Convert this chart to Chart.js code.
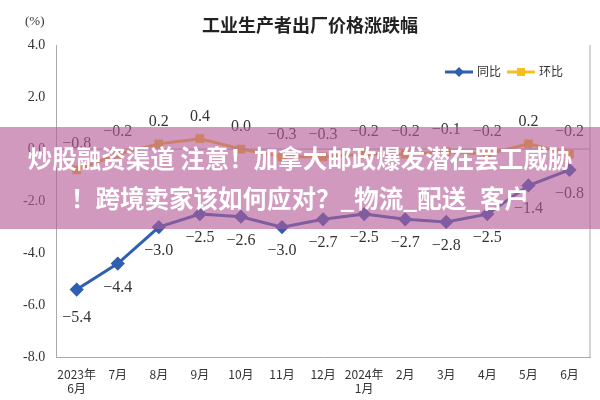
<!DOCTYPE html>
<html><head><meta charset="utf-8">
<script src="https://cdn.jsdelivr.net/npm/chart.js@4/dist/chart.umd.min.js"></script>
<style>
body{margin:0;background:#fff;}
#wrap{position:relative;width:600px;height:400px;}
#banner{position:absolute;left:0;top:127px;width:600px;height:102px;background:rgba(180,90,150,0.62);color:#fff;font-family:"Noto Sans CJK SC";font-weight:bold;font-size:24.5px;line-height:40px;text-align:center;padding-top:11px;box-sizing:border-box;white-space:nowrap;}
</style></head><body>
<div id="wrap"><canvas id="c" width="600" height="400"></canvas>
<div id="banner">炒股融资渠道 注意！加拿大邮政爆发潜在罢工威胁<br>！跨境卖家该如何应对？_物流_配送_客户</div></div>
<script>
const categories=[["2023年","6月"],"7月","8月","9月","10月","11月","12月",["2024年","1月"],"2月","3月","4月","5月","6月"];
const yoy=[-5.4,-4.4,-3.0,-2.5,-2.6,-3.0,-2.7,-2.5,-2.7,-2.8,-2.5,-1.4,-0.8];
const mom=[-0.8,-0.2,0.2,0.4,0.0,-0.3,-0.3,-0.2,-0.2,-0.1,-0.2,0.2,-0.2];
const labelPlugin={id:'lbl',afterDatasetsDraw(ch){const c=ch.ctx;c.save();c.font='16px "Liberation Serif"';c.fillStyle='#333';c.textAlign='center';
ch.data.datasets.forEach((ds,i)=>{const m=ch.getDatasetMeta(i);m.data.forEach((p,j)=>{const v=ds.data[j];let y=i==0?p.y+28:p.y-18;let x=p.x;if(i==0&&j==0){y=p.y+32;}if(i==1&&j==0){y=p.y-22;}c.fillText(v.toFixed(1).replace('-','−'),x,y);});});
c.restore();}};
new Chart(document.getElementById('c'),{type:'line',
data:{labels:categories,datasets:[
{label:'同比',data:yoy,borderColor:'#2f5fb0',backgroundColor:'#2f5fb0',borderWidth:3,pointStyle:'rectRot',pointRadius:5},
{label:'环比',data:mom,borderColor:'#f0c020',backgroundColor:'#f0c020',borderWidth:3,pointStyle:'rect',pointRadius:4}]},
options:{responsive:false,animation:false,layout:{padding:{top:45,right:10,left:20,bottom:2}},
plugins:{title:{display:false},legend:{display:false},tooltip:{enabled:false}},
scales:{y:{min:-8,max:4,ticks:{stepSize:2,callback:v=>v.toFixed(1),font:{family:'Liberation Serif',size:14},color:'#333'},grid:{display:false},border:{color:'#aaa'}},
x:{offset:true,ticks:{autoSkip:false,font:{family:'Noto Sans CJK SC',size:12},color:'#333',maxRotation:0,padding:2},grid:{display:false},border:{color:'#aaa'}}}},
plugins:[labelPlugin,{id:'pct',afterDraw(ch){const c=ch.ctx;c.save();
c.font='bold 18px "Noto Sans CJK SC"';c.fillStyle='#222';c.textAlign='center';c.fillText('工业生产者出厂价格涨跌幅',310,32);
c.textAlign='left';c.font='13px "Liberation Serif"';c.fillStyle='#333';c.fillText('(%)',25,25);
c.strokeStyle='#aaa';c.beginPath();const y0=ch.scales.y.getPixelForValue(0);c.moveTo(ch.chartArea.left,y0);c.lineTo(ch.chartArea.right,y0);c.moveTo(ch.chartArea.right,ch.chartArea.top);c.lineTo(ch.chartArea.right,ch.chartArea.bottom);c.stroke();
const items=[['同比','#2f5fb0','d'],['环比','#f0c020','s']];let x=445;const y=72;
items.forEach(it=>{c.strokeStyle=it[1];c.fillStyle=it[1];c.lineWidth=3;c.beginPath();c.moveTo(x,y);c.lineTo(x+28,y);c.stroke();c.beginPath();
if(it[2]=='d'){c.moveTo(x+14,y-5);c.lineTo(x+19,y);c.lineTo(x+14,y+5);c.lineTo(x+9,y);c.closePath();c.fill();}else{c.fillRect(x+10,y-4,8,8);}
c.fillStyle='#333';c.font='12px "Noto Sans CJK SC"';c.fillText(it[0],x+32,y+4);x+=62;});
c.restore();}}]});
</script></body></html>
